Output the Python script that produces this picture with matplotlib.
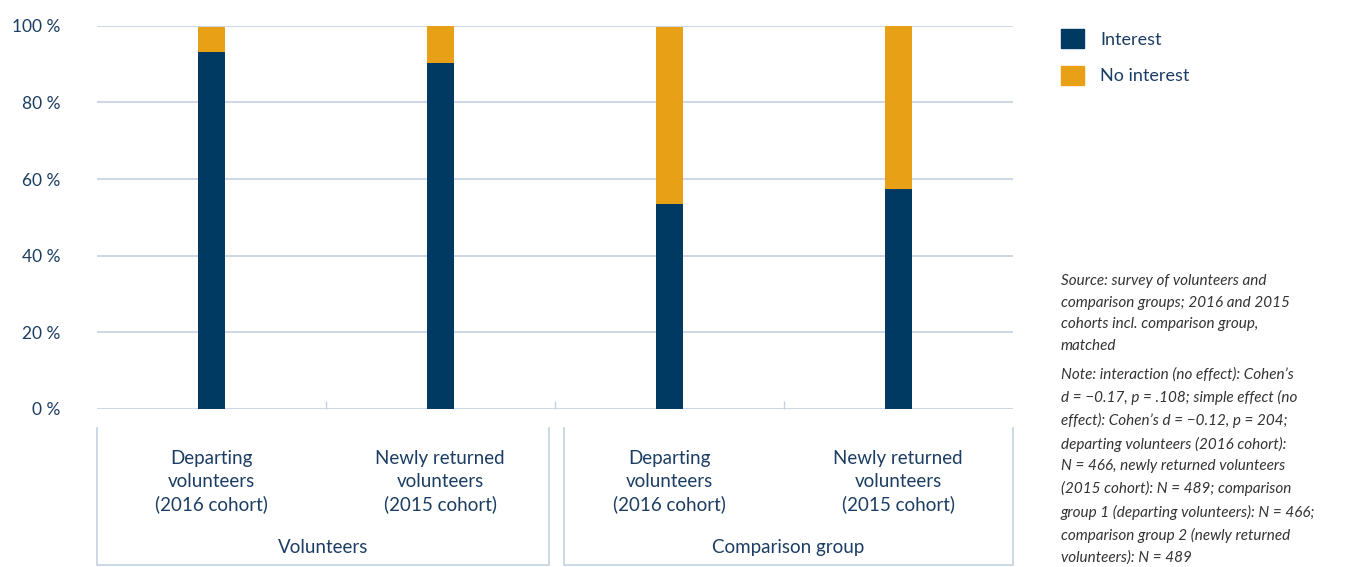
import matplotlib.pyplot as plt
import matplotlib.transforms as mtransforms
from matplotlib.patches import Patch

plt.rcParams['font.family'] = ['Lato', 'DejaVu Sans']

categories = ['Departing\nvolunteers\n(2016 cohort)', 'Newly returned\nvolunteers\n(2015 cohort)',
              'Departing\nvolunteers\n(2016 cohort)', 'Newly returned\nvolunteers\n(2015 cohort)']
groups = ['Volunteers', 'Comparison group']
interest = [93.2, 90.3, 53.5, 57.4]
no_interest = [6.5, 9.7, 46.2, 42.6]
yticks = [0, 20, 40, 60, 80, 100]
ytick_labels = ['0 %', '20 %', '40 %', '60 %', '80 %', '100 %']

navy = '#003a63'
orange = '#e8a016'
grid_c = '#c4d0e1'
text_c = '#1c3d63'

fig = plt.figure(figsize=(13.51, 5.67), dpi=100)
ax = fig.add_axes([0.0716, 0.2787, 0.678, 0.676])

x = range(len(categories))
ax.bar(x, interest, width=0.118, color=navy, label='Interest', zorder=3)
ax.bar(x, no_interest, width=0.118, bottom=interest, color=orange, label='No interest', zorder=3)

ax.set_xlim(-0.5, 3.5)
ax.set_ylim(0, 100)
ax.set_yticks(yticks)
ax.set_yticklabels(ytick_labels)
ax.yaxis.grid(True, color=grid_c, linewidth=1.2)
ax.set_axisbelow(True)
for s in ax.spines.values():
    s.set_visible(False)
ax.tick_params(axis='y', length=0, pad=26, labelsize=12.5, labelcolor=text_c)
ax.set_xticks([0.5, 1.5, 2.5])
ax.set_xticklabels([])
ax.tick_params(axis='x', direction='in', length=6, color=grid_c, width=1)

# category labels and group boxes
tr = mtransforms.blended_transform_factory(ax.transData, ax.transAxes)
for i, c in enumerate(categories):
    ax.text(i, -0.19, c, transform=tr, ha='center', va='center', fontsize=13.5,
            color=text_c, linespacing=1.4)
boxes = [(-0.5, 1.475), (1.54, 3.5)]
for (x0, x1), g in zip(boxes, groups):
    ax.plot([x0, x0, x1, x1], [-0.05, -0.407, -0.407, -0.05], transform=tr,
            color=grid_c, linewidth=1.2, clip_on=False)
    ax.text((x0 + x1) / 2, -0.362, g, transform=tr, ha='center', va='center',
            fontsize=13.5, color=text_c)

handles = [Patch(color=navy), Patch(color=orange)]
fig.legend(handles, ['Interest', 'No interest'], loc='upper left',
           bbox_to_anchor=(0.7735, 0.977), frameon=False, fontsize=13,
           handlelength=1.25, handleheight=1.25, labelspacing=0.95,
           handletextpad=0.9, labelcolor=text_c)

note = ('Source: survey of volunteers and\ncomparison groups; 2016 and 2015\n'
        'cohorts incl. comparison group,\nmatched')
note2 = ("Note: interaction (no effect): Cohen’s\nd = −0.17, p = .108; simple effect (no\n"
         "effect): Cohen’s d = −0.12, p = 204;\ndeparting volunteers (2016 cohort):\n"
         "N = 466, newly returned volunteers\n(2015 cohort): N = 489; comparison\n"
         "group 1 (departing volunteers): N = 466;\ncomparison group 2 (newly returned\n"
         "volunteers): N = 489")
fig.text(0.785, 0.517, note, ha='left', va='top', fontsize=11, style='italic',
         color='#333333', linespacing=1.7)
fig.text(0.785, 0.352, note2, ha='left', va='top', fontsize=11, style='italic',
         color='#333333', linespacing=1.68)

fig.savefig('out.png', dpi=100)
